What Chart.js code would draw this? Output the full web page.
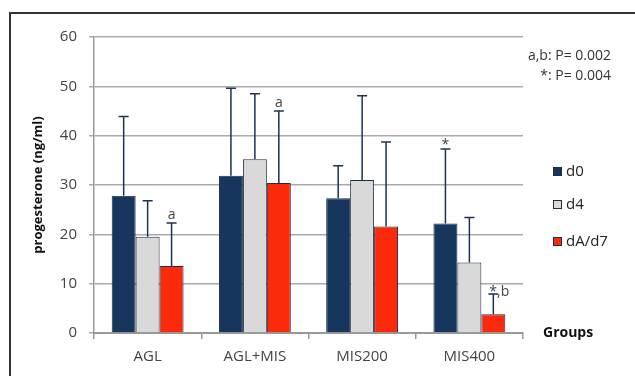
<!DOCTYPE html>
<html>
<head>
<meta charset="utf-8">
<script src="https://cdn.jsdelivr.net/npm/chart.js@4.4.0/dist/chart.umd.min.js"></script>
<style>
  html, body { margin: 0; padding: 0; background: #fff; }
  #wrap { width: 635px; height: 376px; position: relative; }
</style>
</head>
<body>
<div id="wrap"><canvas id="chart" width="635" height="376"></canvas></div>
<script>
// 그룹 및 값
const groups = ['AGL', 'AGL+MIS', 'MIS200', 'MIS400'];
const seriesNames = ['d0', 'd4', 'dA/d7'];
const d0Values = [27.8, 31.9, 27.3, 22.2];
const d4Values = [19.5, 35.2, 31.0, 14.3];
const d7Values = [13.6, 30.4, 21.6, 3.8];
// 에러바 상단 값
const d0ErrTop = [43.9, 49.6, 33.9, 37.3];
const d4ErrTop = [26.8, 48.5, 48.1, 23.4];
const d7ErrTop = [22.3, 45.0, 38.7, 7.9];
// 유의성 표시
const d0Marks = ['', '', '', '*'];
const d4Marks = ['', '', '', ''];
const d7Marks = ['a', 'a', '', '*,b'];
const yTicks = [0, 10, 20, 30, 40, 50, 60];
const noteLines = ['a,b: P= 0.002', '*: P= 0.004'];

const FONT = '"Open Sans", "DejaVu Sans", sans-serif';
const colors = ['#17365d', '#d9d9d9', '#fc2a0a'];
const errTops = [d0ErrTop, d4ErrTop, d7ErrTop];
const marks = [d0Marks, d4Marks, d7Marks];

// 프레임, 에러바, 범례, 주석을 그리는 플러그인
const extrasPlugin = {
    id: 'extras',
    beforeDraw(chart) {
        const ctx = chart.ctx;
        ctx.save();
        ctx.strokeStyle = '#333';
        ctx.lineWidth = 2;
        ctx.strokeRect(10, 13, 660, 400);
        ctx.restore();
    },
    afterDatasetsDraw(chart) {
        const ctx = chart.ctx;
        const y = chart.scales.y;
        ctx.save();
        chart.data.datasets.forEach((ds, di) => {
            const meta = chart.getDatasetMeta(di);
            meta.data.forEach((bar, i) => {
                const top = y.getPixelForValue(errTops[di][i]);
                ctx.strokeStyle = '#1f3350';
                ctx.lineWidth = 1.5;
                ctx.beginPath();
                ctx.moveTo(bar.x, bar.y);
                ctx.lineTo(bar.x, top);
                ctx.moveTo(bar.x - 5, top);
                ctx.lineTo(bar.x + 5, top);
                ctx.stroke();
                const m = marks[di][i];
                if (m) {
                    ctx.fillStyle = '#444';
                    ctx.font = '14px ' + FONT;
                    ctx.textBaseline = 'alphabetic';
                    if (m.length > 1) {
                        ctx.textAlign = 'left';
                        ctx.fillText(m, bar.x - 4, top + 2);
                    } else {
                        ctx.textAlign = 'center';
                        ctx.fillText(m, bar.x, top - (m === '*' ? 0 : 4));
                    }
                }
            });
        });
        ctx.restore();
    },
    afterDraw(chart) {
        const ctx = chart.ctx;
        ctx.save();
        // 범례
        const legendY = [172, 205, 242];
        chart.data.datasets.forEach((ds, di) => {
            ctx.fillStyle = ds.backgroundColor;
            ctx.fillRect(553, legendY[di] - 5, 9, 9);
            ctx.strokeStyle = '#1c2e45';
            ctx.lineWidth = 1;
            ctx.strokeRect(553.5, legendY[di] - 4.5, 8, 8);
            ctx.fillStyle = '#222';
            ctx.font = '15px ' + FONT;
            ctx.textAlign = 'left';
            ctx.textBaseline = 'middle';
            ctx.fillText(ds.label, 566, legendY[di]);
        });
        // P 값 주석
        ctx.font = '14px ' + FONT;
        ctx.textAlign = 'right';
        ctx.fillStyle = '#333';
        ctx.fillText(noteLines[0], 611, 56);
        ctx.fillText(noteLines[1], 611, 76);
        // 축 제목 "Groups"
        ctx.font = 'bold 14px ' + FONT;
        ctx.textAlign = 'left';
        ctx.fillStyle = '#111';
        ctx.fillText('Groups', 543, 333);
        // y축 제목
        ctx.translate(38, 185);
        ctx.rotate(-Math.PI / 2);
        ctx.textAlign = 'center';
        ctx.font = 'bold 13px ' + FONT;
        ctx.fillText('progesterone (ng/ml)', 0, 0);
        ctx.restore();
    }
};

const datasets = [d0Values, d4Values, d7Values].map((vals, i) => ({
    label: seriesNames[i],
    data: vals,
    backgroundColor: colors[i],
    borderColor: '#1c2e45',
    borderWidth: 1,
    categoryPercentage: 0.67,
    barPercentage: 1
}));

new Chart(document.getElementById('chart'), {
    type: 'bar',
    data: { labels: groups, datasets },
    plugins: [extrasPlugin],
    options: {
        responsive: false,
        animation: false,
        layout: { padding: { left: 0, top: 37, right: 112, bottom: 0 } },
        plugins: { legend: { display: false }, tooltip: { enabled: false } },
        scales: {
            x: {
                afterFit(s) { s.height = 43; },
                grid: { offset: true, drawOnChartArea: false, drawTicks: true, tickLength: 6, color: '#999', lineWidth: 1.5 },
                border: { color: '#999', width: 2 },
                ticks: { color: '#444', font: { family: FONT, size: 15 }, padding: 9 }
            },
            y: {
                min: 0, max: 60,
                afterFit(s) { s.width = 94; },
                afterBuildTicks(s) { s.ticks = yTicks.map(v => ({ value: v })); },
                grid: { color: '#aaa', lineWidth: 1.5, tickLength: 5 },
                border: { color: '#999', width: 1.5 },
                ticks: { color: '#444', font: { family: FONT, size: 15 }, padding: 12 }
            }
        }
    }
});
</script>
</body>
</html>
